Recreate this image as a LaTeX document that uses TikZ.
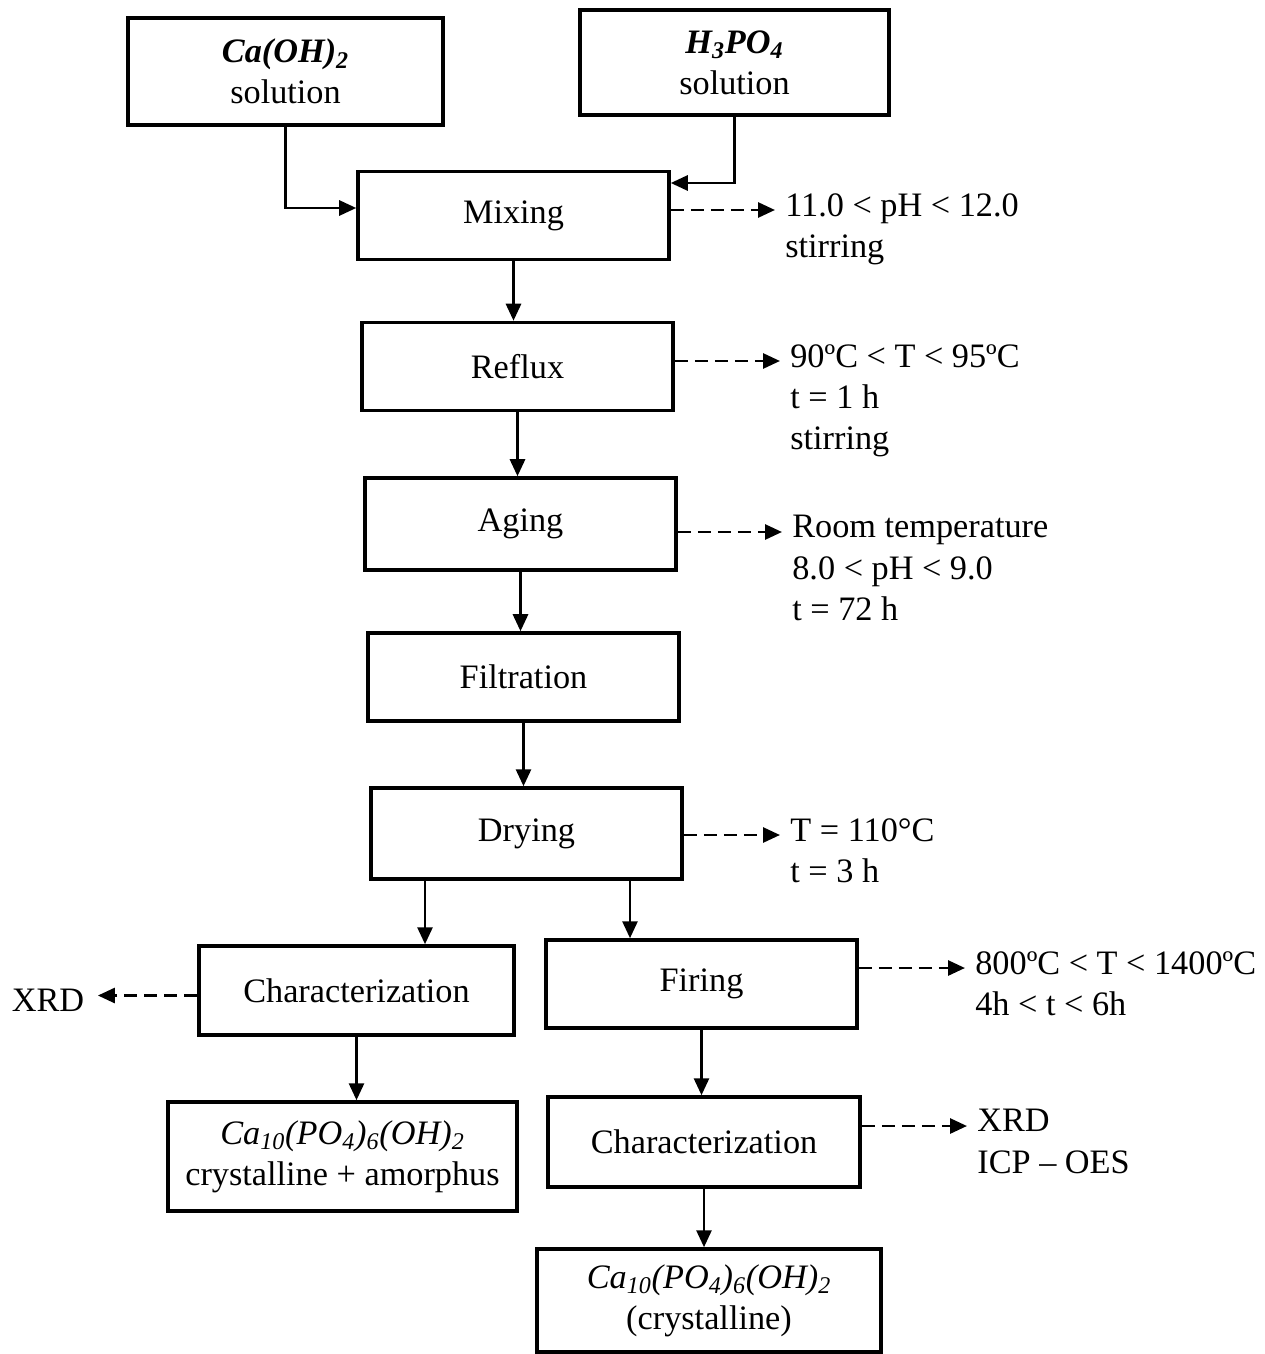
\documentclass[tikz,border=0pt]{standalone}
\usepackage{fontspec}
\setmainfont{Liberation Serif}
\usetikzlibrary{arrows.meta,positioning}
\tikzset{
  stage/.style={draw, line width=2pt, minimum width=6.22cm, minimum height=1.76cm, align=center, inner sep=2pt},
  note/.style={anchor=north west, align=left, inner sep=0pt},
  flow/.style={-{Triangle[length=0.34cm,width=0.3cm]}, line width=1.6pt},
  cond/.style={flow, dash pattern=on 0.26cm off 0.14cm},
}
\begin{document}
\begin{tikzpicture}[font=\fontsize{19.5}{23.5}\selectfont]
\useasboundingbox (0,0) rectangle (25.28,-27.08);
% starting solutions
\node[stage, minimum width=6.3cm, minimum height=2.14cm] (caoh) at (5.71,-1.43) {\textbf{\textit{Ca(OH)\textsubscript{2}}}\\solution};
\node[stage, minimum width=6.18cm, minimum height=2.1cm] (hpo) at (14.69,-1.25) {\textbf{\textit{H\textsubscript{3}PO\textsubscript{4}}}\\solution};
% main line
\node[stage] (mix) at (10.27,-4.31) {Mixing};
\node[stage] (reflux) at (10.35,-7.33) {Reflux};
\node[stage, minimum height=1.84cm] (aging) at (10.41,-10.48) {Aging};
\node[stage] (filt) at (10.47,-13.54) {Filtration};
\node[stage, minimum height=1.82cm] (dry) at (10.53,-16.67) {Drying};
\node[stage, minimum width=6.3cm, minimum height=1.78cm] (charL) at (7.13,-19.81) {Characterization};
\node[stage] (fire) at (14.03,-19.68) {Firing};
\node[stage, minimum width=6.98cm, minimum height=2.18cm] (prodL) at (6.85,-23.13) {\textit{Ca\textsubscript{10}(PO\textsubscript{4})\textsubscript{6}(OH)\textsubscript{2}}\\crystalline + amorphus};
\node[stage, minimum width=6.24cm, minimum height=1.8cm] (charR) at (14.08,-22.84) {Characterization};
\node[stage, minimum width=6.88cm, minimum height=2.06cm] (prodR) at (14.18,-26.01) {\textit{Ca\textsubscript{10}(PO\textsubscript{4})\textsubscript{6}(OH)\textsubscript{2}}\\(crystalline)};
% conditions
\node[note] (n1) at (15.7,-3.86) {11.0 < pH < 12.0\\stirring};
\node[note] (n2) at (15.8,-6.88) {90ºC < T < 95ºC\\t = 1 h\\stirring};
\node[note] (n3) at (15.84,-10.3) {Room temperature\\8.0 < pH < 9.0\\t = 72 h};
\node[note] (n4) at (15.8,-16.36) {T = 110°C\\t = 3 h};
\node[note] (n5) at (19.5,-19.02) {800ºC < T < 1400ºC\\4h < t < 6h};
\node[note] (n6) at (19.54,-22.18) {XRD\\ICP -- OES};
\node (xrdL) at (0.96,-20.0) {XRD};
% arrows
\draw[flow] (caoh.south) |- ([yshift=0.15cm]mix.west);
\draw[flow] (hpo.south) |- ([yshift=0.65cm]mix.east);
\draw[flow] (mix.south) -- (mix.south |- reflux.north);
\draw[flow] (reflux.south) -- (reflux.south |- aging.north);
\draw[flow] (aging.south) -- (aging.south |- filt.north);
\draw[flow] (filt.south) -- (filt.south |- dry.north);
\coordinate (dl) at ([xshift=-2.03cm]dry.south);
\coordinate (dr) at ([xshift=2.07cm]dry.south);
\draw[flow] (dl) -- (dl |- charL.north);
\draw[flow] (dr) -- (dr |- fire.north);
\draw[flow] (charL.south) -- (charL.south |- prodL.north);
\draw[flow] (fire.south) -- (fire.south |- charR.north);
\draw[flow] (charR.south) -- (charR.south |- prodR.north);
% dashed condition arrows
\foreach \b/\n in {mix/n1, reflux/n2, aging/n3, dry/n4, fire/n5, charR/n6}{
  \coordinate (t\n) at ([xshift=-0.2cm,yshift=-0.34cm]\n.north west);
  \draw[cond] (\b.east |- t\n) -- (t\n);
}
\draw[cond, shorten >=0.15cm] ([yshift=-0.1cm]charL.west) -- ([yshift=-0.1cm]charL.west -| xrdL.east);
\end{tikzpicture}
\end{document}
